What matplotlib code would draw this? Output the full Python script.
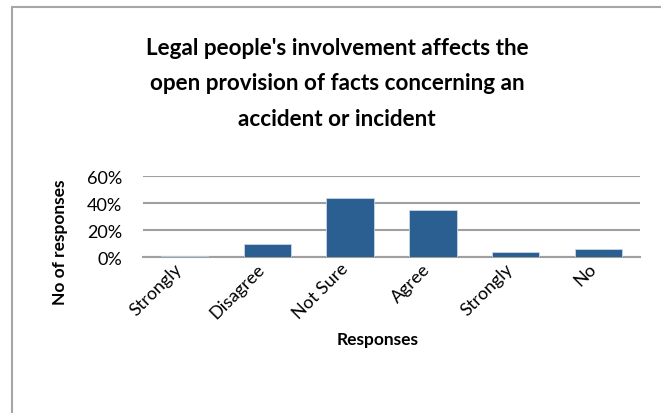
import matplotlib
matplotlib.use("Agg")
import matplotlib.pyplot as plt
from matplotlib.patches import Rectangle
from matplotlib.ticker import PercentFormatter
from matplotlib.transforms import ScaledTranslation

categories = ["Strongly", "Disagree", "Not Sure", "Agree", "Strongly", "No"]
shares = [0.008, 0.095, 0.439, 0.350, 0.041, 0.062]
yticks = [0.0, 0.2, 0.4, 0.6]

title = ("Legal people's involvement affects the\n"
         "open provision of facts concerning an\n"
         "accident or incident")

plt.rcParams["font.family"] = ["Lato", "DejaVu Sans"]

W, H = 661, 414
fig = plt.figure(figsize=(W / 100, H / 100), dpi=100)
fig.patch.set_facecolor("white")

# chart-area frame (extends past the right and bottom edges)
fig.patches.append(Rectangle((12 / W, -0.2), 1.2, 1 - 8 / H + 0.2,
                             transform=fig.transFigure, fill=False,
                             edgecolor="#a6a6a6", linewidth=1.5))

ax = fig.add_axes([143 / W, 1 - 258.3 / H, (640 - 143) / W, (258.3 - 177.3) / H])
x = range(len(categories))
ax.bar(x, shares, width=0.57, color="#2b5e91", edgecolor="#c9d6e6",
       linewidth=0.6, zorder=3)

ax.set_xlim(-0.5, len(categories) - 0.5)
ax.set_ylim(0, 0.6)
ax.set_yticks(yticks)
ax.yaxis.set_major_formatter(PercentFormatter(1.0, decimals=0))
ax.grid(axis="y", color="#a0a0a0", linewidth=1.5, zorder=0)
for s in ["top", "right", "left"]:
    ax.spines[s].set_visible(False)
ax.spines["bottom"].set_color("#a0a0a0")
ax.spines["bottom"].set_linewidth(1.5)
ax.tick_params(axis="both", length=0, labelsize=13, colors="black")
ax.tick_params(axis="y", pad=15)

ax.set_xticks(list(x))
ax.set_xticklabels(categories, rotation=45, ha="right", va="center",
                   rotation_mode="anchor")
ax.tick_params(axis="x", pad=6)
shift = ScaledTranslation(-5 / 100, 0, fig.dpi_scale_trans)
for lbl in ax.get_xticklabels():
    lbl.set_transform(lbl.get_transform() + shift)

fig.text(60 / W, 1 - 242 / H, "No of responses", rotation=90,
         ha="center", va="center", fontsize=12.5, fontweight="bold")
fig.text(378 / W, 1 - 340 / H, "Responses", ha="center", va="center",
         fontsize=12.5, fontweight="bold")

fig.text(337 / W, 1 - 84 / H, title, ha="center", va="center",
         fontsize=16.2, fontweight="bold", linespacing=1.85)

fig.savefig("out.png", dpi=100, facecolor="white")
